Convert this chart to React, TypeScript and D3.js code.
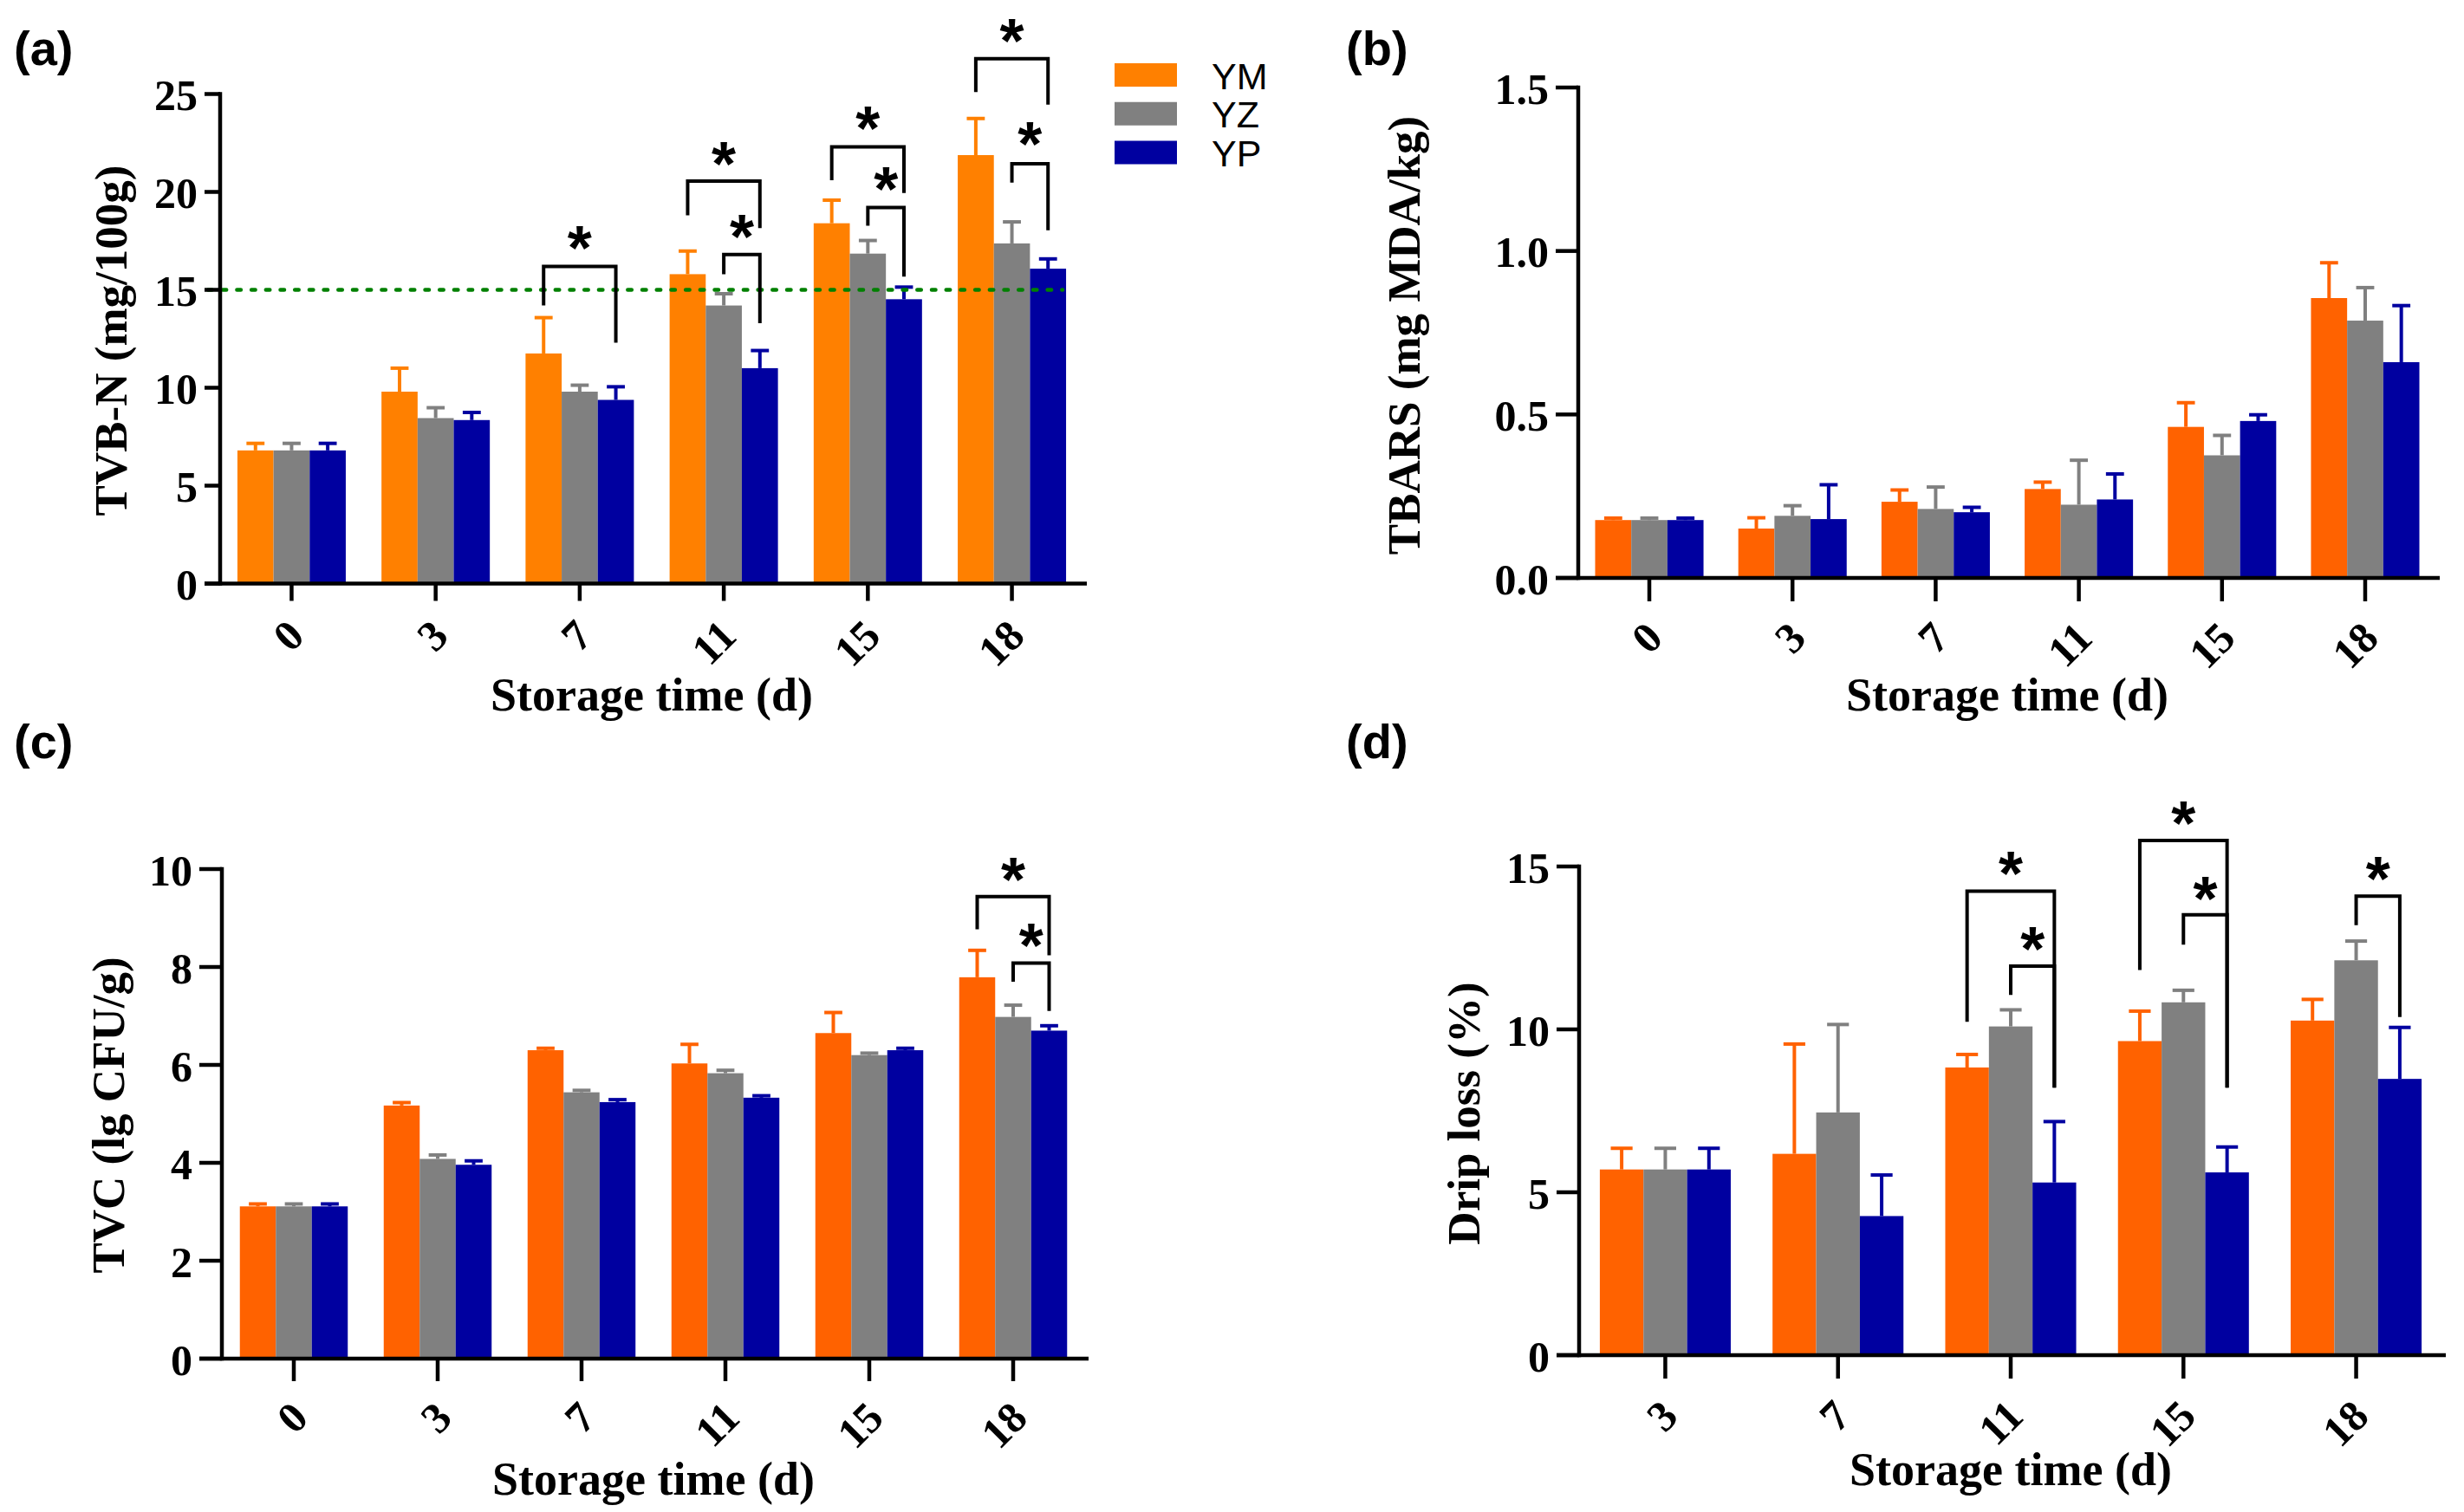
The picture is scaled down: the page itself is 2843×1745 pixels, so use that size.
import React from "react";
import * as d3 from "d3";

// ---------- data ----------
const days = ["0", "3", "7", "11", "15", "18"];
const dripDays = ["3", "7", "11", "15", "18"];
const seriesNames = ["YM", "YZ", "YP"];

// (a) TVB-N (mg/100g)
const tvbnYM = [6.8, 9.8, 11.75, 15.8, 18.4, 21.88];
const tvbnYZ = [6.8, 8.45, 9.8, 14.2, 16.85, 17.37];
const tvbnYP = [6.8, 8.35, 9.38, 11.0, 14.52, 16.08];
const tvbnYMsd = [0.36, 1.2, 1.83, 1.18, 1.18, 1.87];
const tvbnYZsd = [0.36, 0.53, 0.33, 0.6, 0.67, 1.1];
const tvbnYPsd = [0.36, 0.39, 0.67, 0.9, 0.62, 0.5];
const tvbnTicks = [0, 5, 10, 15, 20, 25];
const tvbnLimit = 15;

// (b) TBARS (mg MDA/kg)
const tbarsYM = [0.177, 0.151, 0.233, 0.272, 0.462, 0.856];
const tbarsYZ = [0.177, 0.19, 0.211, 0.224, 0.375, 0.787];
const tbarsYP = [0.177, 0.18, 0.201, 0.24, 0.48, 0.66];
const tbarsYMsd = [0.006, 0.033, 0.036, 0.021, 0.074, 0.108];
const tbarsYZsd = [0.006, 0.031, 0.067, 0.136, 0.061, 0.101];
const tbarsYPsd = [0.006, 0.105, 0.015, 0.078, 0.019, 0.173];
const tbarsTicks = [0, 0.5, 1.0, 1.5];

// (c) TVC (lg CFU/g)
const tvcYM = [3.11, 5.17, 6.3, 6.03, 6.65, 7.79];
const tvcYZ = [3.11, 4.08, 5.44, 5.83, 6.2, 6.98];
const tvcYP = [3.11, 3.96, 5.24, 5.33, 6.3, 6.7];
const tvcYMsd = [0.05, 0.06, 0.04, 0.39, 0.42, 0.55];
const tvcYZsd = [0.05, 0.08, 0.04, 0.06, 0.04, 0.24];
const tvcYPsd = [0.05, 0.08, 0.05, 0.04, 0.04, 0.1];
const tvcTicks = [0, 2, 4, 6, 8, 10];

// (d) Drip loss (%)
const dripYM = [5.7, 6.18, 8.83, 9.64, 10.27];
const dripYZ = [5.7, 7.45, 10.09, 10.83, 12.12];
const dripYP = [5.7, 4.27, 5.3, 5.61, 8.48];
const dripYMsd = [0.65, 3.37, 0.4, 0.92, 0.65];
const dripYZsd = [0.65, 2.7, 0.51, 0.37, 0.59];
const dripYPsd = [0.65, 1.26, 1.87, 0.78, 1.58];
const dripTicks = [0, 5, 10, 15];

// significance brackets (data units: bracket top, left leg end, right leg end, star centre)
const tvbnBrackets = [
  { day: "7", from: "YM", to: "YP", top: 16.2, left: 14.2, right: 12.3, star: 17.8 },
  { day: "11", from: "YM", to: "YP", top: 20.55, left: 18.8, right: 18.15, star: 22.1 },
  { day: "11", from: "YZ", to: "YP", top: 16.8, left: 15.8, right: 13.3, star: 18.4 },
  { day: "15", from: "YM", to: "YP", top: 22.3, left: 20.6, right: 19.95, star: 23.9 },
  { day: "15", from: "YZ", to: "YP", top: 19.2, left: 18.27, right: 15.67, star: 20.8 },
  { day: "18", from: "YM", to: "YP", top: 26.8, left: 25.1, right: 24.46, star: 28.4 },
  { day: "18", from: "YZ", to: "YP", top: 21.44, left: 20.48, right: 18.04, star: 23.13 },
];
const tbarsBrackets: any[] = [];
const tvcBrackets = [
  { day: "18", from: "YM", to: "YP", top: 9.44, left: 8.77, right: 8.24, star: 10.06 },
  { day: "18", from: "YZ", to: "YP", top: 8.08, left: 7.7, right: 7.1, star: 8.71 },
];
const dripBrackets = [
  { day: "11", from: "YM", to: "YP", top: 14.24, left: 10.23, right: 8.21, star: 15.18 },
  { day: "11", from: "YZ", to: "YP", top: 11.94, left: 11.06, right: 8.21, star: 12.88 },
  { day: "15", from: "YM", to: "YP", top: 15.8, left: 11.82, right: 8.21, star: 16.74 },
  { day: "15", from: "YZ", to: "YP", top: 13.52, left: 12.6, right: 8.21, star: 14.42 },
  { day: "18", from: "YZ", to: "YP", top: 14.09, left: 13.2, right: 10.38, star: 15.03 },
];

// ---------- styling ----------
const SERIF = "'Liberation Serif', 'Times New Roman', serif";
const SANS = "'Liberation Sans', Arial, sans-serif";
const GRAY = "#808080";
const BLUE = "#0000A0";
const ORANGE_A = "#FF8000";
const ORANGE = "#FF6200";

type Bracket = { day: string; from: string; to: string; top: number; left: number; right: number; star: number };

type PanelCfg = {
  letter: string;
  letterX: number;
  letterY: number;
  cats: string[];
  means: number[][];
  sds: number[][];
  colors: string[];
  ticks: number[];
  tickFmt: (v: number) => string;
  yMax: number;
  axisX: number;
  baseY: number;
  topY: number;
  plotW: number;
  pIn: number;
  pOut: number;
  yTickLen: number;
  xTickLen: number;
  xlabDx: number;
  xlabDy: number;
  yTitle: string;
  yTitleX: number;
  yTitleY: number;
  xTitleY: number;
  brackets: Bracket[];
  limit?: number;
  limitX0?: number;
  limitX1?: number;
};

const LW = 4.5;

function Panel({ c }: { c: PanelCfg }) {
  const x = d3
    .scaleBand<string>()
    .domain(c.cats)
    .range([c.axisX, c.axisX + c.plotW])
    .paddingInner(c.pIn)
    .paddingOuter(c.pOut);
  const xs = d3.scaleBand<string>().domain(seriesNames).range([0, x.bandwidth()]);
  const y = d3.scaleLinear().domain([0, c.yMax]).range([c.baseY, c.topY]);
  const bw = xs.bandwidth();
  const capW = bw * 0.5;
  const cx = (day: string, s: string) => (x(day) as number) + (xs(s) as number) + bw / 2;

  return (
    <g>
      <text x={c.letterX} y={c.letterY} fontFamily={SANS} fontWeight="bold" fontSize={56} fill="#000">
        ({c.letter})
      </text>

      {/* bars */}
      {seriesNames.map((s, si) =>
        c.cats.map((day, di) => {
          const v = c.means[si][di];
          return (
            <rect
              key={`b-${s}-${day}`}
              x={(x(day) as number) + (xs(s) as number)}
              y={y(v)}
              width={bw}
              height={y(0) - y(v)}
              fill={c.colors[si]}
            />
          );
        })
      )}

      {/* error bars (upper) */}
      {seriesNames.map((s, si) =>
        c.cats.map((day, di) => {
          const v = c.means[si][di];
          const e = v + c.sds[si][di];
          const xc = cx(day, s);
          return (
            <g key={`e-${s}-${day}`} stroke={c.colors[si]} strokeWidth={4}>
              <line x1={xc} x2={xc} y1={y(v)} y2={y(e)} />
              <line x1={xc - capW / 2} x2={xc + capW / 2} y1={y(e)} y2={y(e)} />
            </g>
          );
        })
      )}

      {/* limit line */}
      {c.limit !== undefined && (
        <line
          x1={c.limitX0}
          x2={c.limitX1}
          y1={y(c.limit)}
          y2={y(c.limit)}
          stroke="#008000"
          strokeWidth={4.5}
          strokeDasharray="4.5 12.2"
          strokeLinecap="round"
        />
      )}

      {/* axes */}
      <line x1={c.axisX} x2={c.axisX} y1={c.topY - LW / 2} y2={c.baseY + LW / 2} stroke="#000" strokeWidth={LW} />
      <line
        x1={c.axisX - c.yTickLen}
        x2={c.axisX + c.plotW + 4}
        y1={c.baseY}
        y2={c.baseY}
        stroke="#000"
        strokeWidth={LW}
      />
      {c.ticks.map((t) => (
        <g key={`yt-${t}`}>
          <line x1={c.axisX - c.yTickLen} x2={c.axisX} y1={y(t)} y2={y(t)} stroke="#000" strokeWidth={LW} />
          <text
            x={c.axisX - c.yTickLen - 8}
            y={y(t)}
            dy="0.37em"
            textAnchor="end"
            fontFamily={SERIF}
            fontWeight="bold"
            fontSize={50}
            fill="#000"
          >
            {c.tickFmt(t)}
          </text>
        </g>
      ))}
      {c.cats.map((day) => {
        const xc = (x(day) as number) + x.bandwidth() / 2;
        return (
          <g key={`xt-${day}`}>
            <line x1={xc} x2={xc} y1={c.baseY} y2={c.baseY + c.xTickLen} stroke="#000" strokeWidth={LW} />
            <text
              transform={`translate(${xc + c.xlabDx},${c.baseY + c.xlabDy}) rotate(-45)`}
              textAnchor="end"
              fontFamily={SERIF}
              fontWeight="bold"
              fontSize={50}
              fill="#000"
            >
              {day}
            </text>
          </g>
        );
      })}

      {/* titles */}
      <text
        transform={`translate(${c.yTitleX},${c.yTitleY}) rotate(-90)`}
        textAnchor="middle"
        fontFamily={SERIF}
        fontWeight="bold"
        fontSize={53}
        fill="#000"
      >
        {c.yTitle}
      </text>
      <text
        x={c.axisX + c.plotW / 2}
        y={c.xTitleY}
        textAnchor="middle"
        fontFamily={SERIF}
        fontWeight="bold"
        fontSize={54}
        fill="#000"
      >
        Storage time (d)
      </text>

      {/* significance brackets */}
      {c.brackets.map((b, i) => {
        const xl = cx(b.day, b.from);
        const xr = cx(b.day, b.to);
        const d = `M${xl},${y(b.left)}V${y(b.top)}H${xr}V${y(b.right)}`;
        return (
          <g key={`br-${i}`}>
            <path d={d} fill="none" stroke="#000" strokeWidth={4} strokeLinejoin="miter" />
            <text
              x={(xl + xr) / 2}
              y={y(b.star) + 40}
              textAnchor="middle"
              fontFamily={SANS}
              fontWeight="bold"
              fontSize={72}
              fill="#000"
            >
              *
            </text>
          </g>
        );
      })}
    </g>
  );
}

const f0 = (v: number) => d3.format("d")(v);
const f1 = (v: number) => d3.format(".1f")(v);

const panels: PanelCfg[] = [
  {
    letter: "a",
    letterX: 16,
    letterY: 75,
    cats: days,
    means: [tvbnYM, tvbnYZ, tvbnYP],
    sds: [tvbnYMsd, tvbnYZsd, tvbnYPsd],
    colors: [ORANGE_A, GRAY, BLUE],
    ticks: tvbnTicks,
    tickFmt: f0,
    yMax: 25,
    axisX: 254,
    baseY: 673.5,
    topY: 108.5,
    plotW: 996,
    pIn: 0.248,
    pOut: 0.12,
    yTickLen: 18,
    xTickLen: 20,
    xlabDx: 17,
    xlabDy: 63,
    yTitle: "TVB-N (mg/100g)",
    yTitleX: 146,
    yTitleY: 393,
    xTitleY: 820,
    brackets: tvbnBrackets,
    limit: tvbnLimit,
    limitX0: 240,
    limitX1: 1226,
  },
  {
    letter: "b",
    letterX: 1553,
    letterY: 75,
    cats: days,
    means: [tbarsYM, tbarsYZ, tbarsYP],
    sds: [tbarsYMsd, tbarsYZsd, tbarsYPsd],
    colors: [ORANGE, GRAY, BLUE],
    ticks: tbarsTicks,
    tickFmt: f1,
    yMax: 1.5,
    axisX: 1821,
    baseY: 667,
    topY: 101,
    plotW: 990,
    pIn: 0.243,
    pOut: 0.118,
    yTickLen: 26,
    xTickLen: 27,
    xlabDx: 18,
    xlabDy: 72,
    yTitle: "TBARS (mg MDA/kg)",
    yTitleX: 1638,
    yTitleY: 387,
    xTitleY: 820,
    brackets: tbarsBrackets,
  },
  {
    letter: "c",
    letterX: 16,
    letterY: 875,
    cats: days,
    means: [tvcYM, tvcYZ, tvcYP],
    sds: [tvcYMsd, tvcYZsd, tvcYPsd],
    colors: [ORANGE, GRAY, BLUE],
    ticks: tvcTicks,
    tickFmt: f0,
    yMax: 10,
    axisX: 256,
    baseY: 1568,
    topY: 1003,
    plotW: 996,
    pIn: 0.25,
    pOut: 0.125,
    yTickLen: 26,
    xTickLen: 26,
    xlabDx: 19,
    xlabDy: 71,
    yTitle: "TVC (lg CFU/g)",
    yTitleX: 143,
    yTitleY: 1287,
    xTitleY: 1725,
    brackets: tvcBrackets,
  },
  {
    letter: "d",
    letterX: 1553,
    letterY: 875,
    cats: dripDays,
    means: [dripYM, dripYZ, dripYP],
    sds: [dripYMsd, dripYZsd, dripYPsd],
    colors: [ORANGE, GRAY, BLUE],
    ticks: dripTicks,
    tickFmt: f0,
    yMax: 15,
    axisX: 1822,
    baseY: 1564,
    topY: 1000,
    plotW: 996,
    pIn: 0.242,
    pOut: 0.12,
    yTickLen: 26,
    xTickLen: 27,
    xlabDx: 17,
    xlabDy: 73,
    yTitle: "Drip loss (%)",
    yTitleX: 1707,
    yTitleY: 1285,
    xTitleY: 1714,
    brackets: dripBrackets,
  },
];

const legendColors = [ORANGE_A, GRAY, BLUE];

function Legend() {
  const ly = d3.scalePoint<string>().domain(seriesNames).range([86.5, 176]);
  return (
    <g>
      {seriesNames.map((s, i) => (
        <g key={s}>
          <rect x={1286} y={(ly(s) as number) - 13.5} width={72} height={27} fill={legendColors[i]} />
          <text x={1398} y={(ly(s) as number) + 16} fontFamily={SANS} fontSize={43} fill="#000">
            {s}
          </text>
        </g>
      ))}
    </g>
  );
}

export default function App() {
  return (
    <div style={{ position: "absolute", left: 0, top: 0 }}>
      <svg width={2843} height={1745} viewBox="0 0 2843 1745" style={{ display: "block", background: "#fff" }}>
        <rect width={2843} height={1745} fill="#fff" />
        {panels.map((p) => (
          <Panel key={p.letter} c={p} />
        ))}
        <Legend />
      </svg>
    </div>
  );
}
